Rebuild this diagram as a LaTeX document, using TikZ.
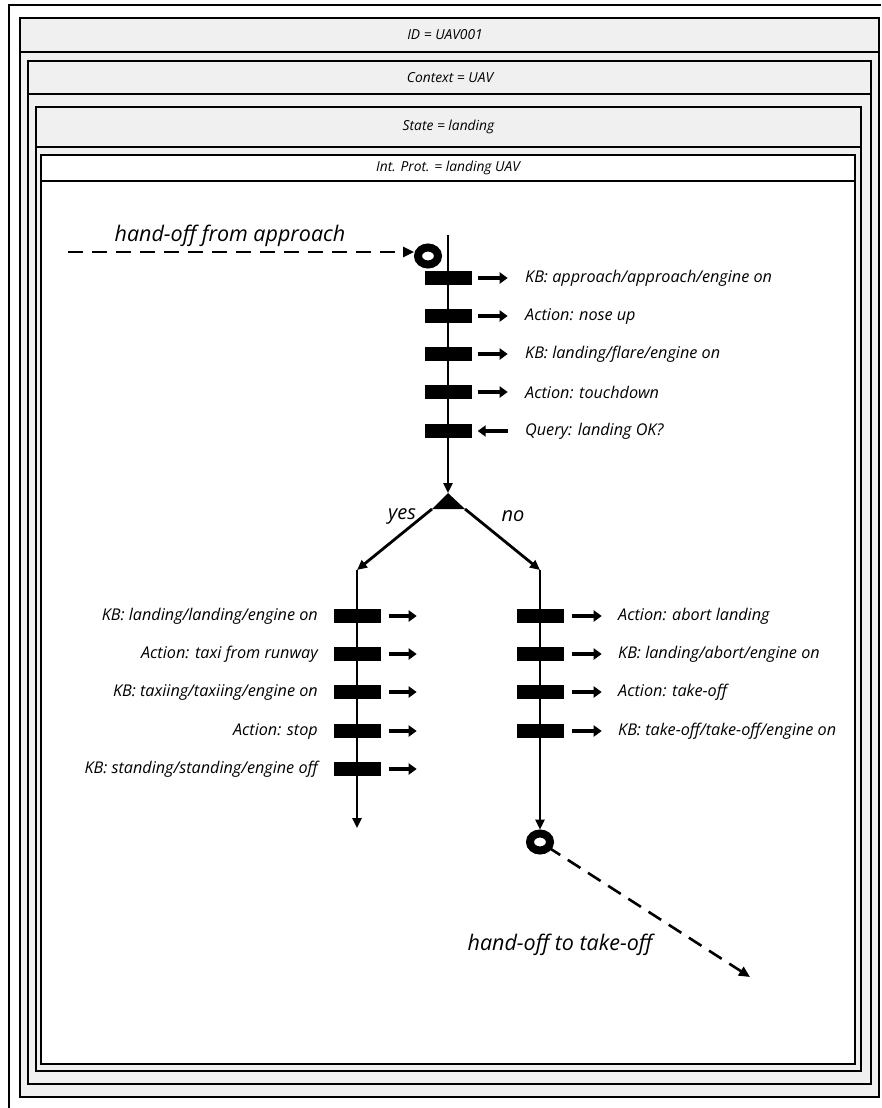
\documentclass[tikz,border=0pt]{standalone}
\usepackage{fontspec}
\setmainfont{Open Sans}
\usetikzlibrary{arrows.meta,shapes.geometric,calc}

\begin{document}
\begin{tikzpicture}[x=1pt,y=-1pt,
  frame/.style={draw=black,line width=1.2pt},
  panel/.style={frame,fill=gray!12},
  hdr/.style={font=\itshape\fontsize{13.8}{15}\selectfont,inner sep=0pt},
  bar/.style={fill=black,minimum width=47pt,minimum height=14pt,inner sep=0pt},
  lbl/.style={font=\itshape\fontsize{16.2}{18}\selectfont,inner sep=0pt},
  big/.style={font=\itshape\fontsize{21.5}{24}\selectfont,inner sep=0pt},
  mid/.style={font=\itshape\fontsize{20}{22}\selectfont,inner sep=0pt},
  side/.style={line width=4pt,-{Triangle[width=11pt,length=8pt]}},
  flow/.style={line width=2.4pt,-{Triangle[width=9pt,length=10pt]}},
  branch/.style={line width=2.8pt,-{Triangle[width=9pt,length=10pt]}},
  handoff/.style={line width=2.6pt,dash pattern=on 15pt off 9pt,-{Triangle[width=10pt,length=11pt]}},
  ring/.style={ellipse,draw=black,line width=8pt,minimum width=20pt,minimum height=17pt,inner sep=0pt},
]
\useasboundingbox (0,0) rectangle (881,1108);

% nested frames
\draw[frame] (9,1108) -- (9,5) -- (881,5);
\draw[panel] (20,18) rectangle (879,1097);
\draw[frame] (20,52) -- (879,52);
\node[hdr] (idlbl) at (445,35) {ID = UAV001};

\draw[panel] (28,61) rectangle (871,1084);
\draw[frame] (28,94) -- (871,94);
\node[hdr] (ctxlbl) at (450,78) {Context = UAV};

\draw[panel] (36,107) rectangle (861,1071);
\draw[frame] (36,147) -- (861,147);
\node[hdr] (statelbl) at (448.5,127) {State = landing};

\draw[frame,fill=white] (41,155) rectangle (855,1064);
\draw[frame] (41,181) -- (855,181);
\node[hdr] (protlbl) at (448,168) {Int. Prot. = landing UAV};

% main line down to the decision
\coordinate (mtop) at (448,235);
\coordinate (apex) at (448,493);
\coordinate (trl) at (432,509);
\coordinate (trr) at (465,509);
\draw[flow] (mtop) -- (apex);
\fill (apex) -- (trl) -- (trr) -- cycle;

% incoming hand-off
\node[ring] (hin) at (428,256) {};
\coordinate (hsrc) at (68,252);
\draw[handoff] (hsrc) -- (hsrc -| hin.west);
\node[big] (hinlbl) at (230,236) {hand-off from approach};

% steps on the main line
\node[bar] (m1) at (448,278) {};
\node[bar] (m2) at (448,316) {};
\node[bar] (m3) at (448,354) {};
\node[bar] (m4) at (448,392) {};
\node[bar] (m5) at (448,431) {};
\draw[side] ([xshift=6pt]m1.east) -- ++(30,0);
\draw[side] ([xshift=6pt]m2.east) -- ++(30,0);
\draw[side] ([xshift=6pt]m3.east) -- ++(30,0);
\draw[side] ([xshift=6pt]m4.east) -- ++(30,0);
\draw[side] ([xshift=36pt]m5.east) -- ([xshift=6pt]m5.east);
\node[lbl,anchor=west] (t1) at (525,278) {KB: approach/approach/engine on};
\node[lbl,anchor=west] (t2) at (525,316) {Action: nose up};
\node[lbl,anchor=west] (t3) at (525,354) {KB: landing/flare/engine on};
\node[lbl,anchor=west] (t4) at (525,392) {Action: touchdown};
\node[lbl,anchor=west] (t5) at (525,431) {Query: landing OK?};

% branches
\coordinate (ltop) at (357,570);
\coordinate (rtop) at (540,570);
\coordinate (lend) at (357,828);
\draw[branch] (trl) -- (ltop);
\draw[branch] (trr) -- (rtop);
\node[mid] (yes) at (402,516) {yes};
\node[mid] (no) at (513,516) {no};

% left branch
\node[ring] (hout) at (540,842) {};
\draw[flow] (ltop) -- (lend);
\draw[flow] (rtop) -- (hout.north);

\node[bar] (l1) at (357,616) {};
\node[bar] (l2) at (357,654) {};
\node[bar] (l3) at (357,692) {};
\node[bar] (l4) at (357,731) {};
\node[bar] (l5) at (357,769) {};
\foreach \b in {l1,l2,l3,l4,l5}
  \draw[side] ([xshift=8pt]\b.east) -- ++(28,0);
\node[lbl,anchor=east] (u1) at (318,616) {KB: landing/landing/engine on};
\node[lbl,anchor=east] (u2) at (318,654) {Action: taxi from runway};
\node[lbl,anchor=east] (u3) at (318,692) {KB: taxiing/taxiing/engine on};
\node[lbl,anchor=east] (u4) at (318,731) {Action: stop};
\node[lbl,anchor=east] (u5) at (318,769) {KB: standing/standing/engine off};

% right branch
\node[bar] (r1) at (540,616) {};
\node[bar] (r2) at (540,654) {};
\node[bar] (r3) at (540,692) {};
\node[bar] (r4) at (540,731) {};
\foreach \b in {r1,r2,r3,r4}
  \draw[side] ([xshift=8pt]\b.east) -- ++(30,0);
\node[lbl,anchor=west] (v1) at (618,616) {Action: abort landing};
\node[lbl,anchor=west] (v2) at (618,654) {KB: landing/abort/engine on};
\node[lbl,anchor=west] (v3) at (618,692) {Action: take-off};
\node[lbl,anchor=west] (v4) at (618,731) {KB: take-off/take-off/engine on};

% outgoing hand-off, its first dash joined to the ring like a tail
\coordinate (hdst) at (750,977);
\draw[handoff] ($(hout.center)!9pt!(hdst)$) -- (hdst);
\node[big] (houtlbl) at (560,945) {hand-off to take-off};
\end{tikzpicture}
\end{document}
